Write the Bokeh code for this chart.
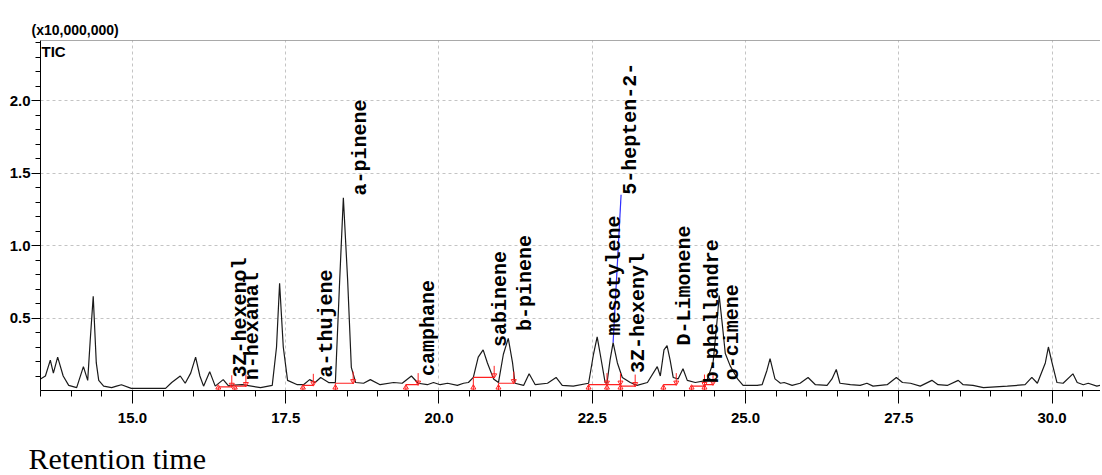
import numpy as np
from bokeh.plotting import figure
from bokeh.models import Range1d, FixedTicker, PrintfTickFormatter, Label, Span, Title
from bokeh.core.properties import value
from bokeh.embed import file_html
from bokeh.resources import INLINE

# ---- chromatogram trace (retention time, TIC x10,000,000) ----
rt = [13.50, 13.58, 13.66, 13.71, 13.78, 13.87, 13.96, 14.09, 14.20, 14.27,
      14.31, 14.36, 14.41, 14.45, 14.53, 14.66, 14.74, 14.82, 14.98, 15.54,
      15.64, 15.78, 15.86, 15.95, 16.03, 16.10, 16.16, 16.26, 16.35, 16.48,
      16.57, 16.60, 16.79, 17.09, 17.28, 17.35, 17.40, 17.46, 17.53, 17.69,
      17.79, 17.89, 17.98, 18.07, 18.20, 18.31, 18.38, 18.44, 18.51, 18.57,
      18.64, 18.77, 18.88, 19.04, 19.26, 19.40, 19.55, 19.66, 19.81, 19.91,
      20.02, 20.14, 20.30, 20.40, 20.48, 20.56, 20.64, 20.72, 20.79, 20.89,
      20.97, 21.05, 21.13, 21.20, 21.24, 21.38, 21.47, 21.57, 21.77, 21.91,
      22.01, 22.19, 22.44, 22.52, 22.58, 22.63, 22.71, 22.74, 22.79, 22.84,
      22.91, 22.99, 23.12, 23.23, 23.40, 23.56, 23.61, 23.67, 23.72, 23.77,
      23.82, 23.90, 23.98, 24.05, 24.18, 24.37, 24.47, 24.54, 24.57, 24.62,
      24.67, 24.75, 24.87, 24.96, 25.19, 25.27, 25.35, 25.40, 25.48, 25.57,
      25.63, 25.76, 25.89, 26.02, 26.14, 26.33, 26.41, 26.48, 26.54, 26.71,
      26.87, 26.98, 27.08, 27.31, 27.46, 27.56, 27.69, 27.85, 28.04, 28.14,
      28.29, 28.47, 28.55, 28.71, 28.88, 29.27, 29.56, 29.67, 29.76, 29.89,
      29.94, 30.00, 30.08, 30.18, 30.34, 30.41, 30.51, 30.59, 30.73, 30.82]
tic = [0.080, 0.100, 0.210, 0.120, 0.230, 0.100, 0.035, 0.020, 0.165, 0.070,
       0.340, 0.650, 0.190, 0.070, 0.030, 0.020, 0.030, 0.040, 0.015, 0.015,
       0.055, 0.100, 0.050, 0.120, 0.230, 0.100, 0.030, 0.130, 0.030, 0.075,
       0.030, 0.035, 0.040, 0.020, 0.035, 0.300, 0.740, 0.300, 0.070, 0.040,
       0.040, 0.075, 0.055, 0.090, 0.055, 0.055, 0.760, 1.330, 0.760, 0.160,
       0.055, 0.050, 0.075, 0.040, 0.055, 0.050, 0.100, 0.050, 0.040, 0.055,
       0.040, 0.050, 0.035, 0.050, 0.055, 0.090, 0.230, 0.280, 0.190, 0.080,
       0.055, 0.250, 0.360, 0.190, 0.050, 0.035, 0.115, 0.040, 0.050, 0.090,
       0.035, 0.030, 0.050, 0.250, 0.370, 0.250, 0.055, 0.050, 0.210, 0.330,
       0.190, 0.090, 0.055, 0.035, 0.055, 0.165, 0.100, 0.280, 0.310, 0.210,
       0.090, 0.080, 0.150, 0.070, 0.055, 0.070, 0.190, 0.500, 0.655, 0.460,
       0.255, 0.170, 0.080, 0.035, 0.035, 0.040, 0.140, 0.220, 0.080, 0.050,
       0.055, 0.035, 0.050, 0.090, 0.040, 0.035, 0.080, 0.145, 0.050, 0.040,
       0.035, 0.050, 0.030, 0.040, 0.090, 0.055, 0.050, 0.030, 0.070, 0.040,
       0.035, 0.070, 0.040, 0.035, 0.020, 0.030, 0.040, 0.090, 0.050, 0.190,
       0.300, 0.190, 0.055, 0.050, 0.115, 0.055, 0.040, 0.050, 0.030, 0.040]

# ---- peak labels ----
label_names = ["3Z-hexenol", "n-hexanal", "a-thujene", "a-pinene", "camphane",
               "sabinene", "b-pinene", "mesotylene", "5-hepten-2-", "3Z-hexenyl",
               "D-Limonene", "b-phellandre", "o-cimene"]
label_rt = [16.48, 16.68, 17.89, 18.44, 19.55, 20.72, 21.13, 22.58, 22.84, 22.97,
            23.72, 24.18, 24.51]
label_y = [0.09, 0.07, 0.09, 1.345, 0.10, 0.30, 0.41, 0.38, 1.35, 0.12,
           0.31, 0.05, 0.07]

# leader line (peak apex -> displaced label)
leader_x0 = [22.84]
leader_y0 = [0.33]
leader_x1 = [22.97]
leader_y1 = [1.35]

# ---- integration marks ----
int_start = [16.40, 16.67, 17.78, 18.31, 19.46, 20.56, 20.97, 22.44, 22.74, 22.96, 23.66, 24.12, 24.33]
int_end = [16.62, 16.85, 17.95, 18.60, 19.66, 20.90, 21.22, 22.74, 22.96, 23.20, 23.87, 24.33, 24.47]
int_level = [0.025, 0.030, 0.035, 0.050, 0.040, 0.090, 0.050, 0.040, 0.040, 0.030, 0.040, 0.030, 0.040]

# ---- ticks ----
x_major = [15.0, 17.5, 20.0, 22.5, 25.0, 27.5, 30.0]
x_minor = [13.5, 14.0, 14.5, 15.5, 16.0, 16.5, 17.0, 18.0, 18.5, 19.0, 19.5, 20.5,
           21.0, 21.5, 22.0, 23.0, 23.5, 24.0, 24.5, 25.5, 26.0, 26.5, 27.0, 28.0,
           28.5, 29.0, 29.5, 30.5]
y_major = [0.5, 1.0, 1.5, 2.0]
y_minor = [0.1, 0.2, 0.3, 0.4, 0.6, 0.7, 0.8, 0.9, 1.1, 1.2, 1.3, 1.4, 1.6, 1.7,
           1.8, 1.9, 2.1, 2.2, 2.3, 2.4]

SANS = "Liberation Sans"

p = figure(width=1100, height=475, x_range=Range1d(13.5, 30.79), y_range=Range1d(0, 2.414),
           output_backend="svg", toolbar_location=None,
           min_border_left=40, min_border_right=0, min_border_top=40, min_border_bottom=85)
p.outline_line_color = None
p.background_fill_color = "white"
p.border_fill_color = "white"

# top-left unit text as title
p.title.text = "(x10,000,000)"
p.title.align = "left"
p.title.offset = -9
p.title.standoff = 5
p.title.text_font = SANS
p.title.text_font_style = "bold"
p.title.text_font_size = "14px"
p.title.text_color = "black"

# axes
p.xaxis.ticker = FixedTicker(ticks=x_major, minor_ticks=x_minor)
p.yaxis.ticker = FixedTicker(ticks=y_major, minor_ticks=y_minor)
p.xaxis.formatter = PrintfTickFormatter(format="%.1f")
p.yaxis.formatter = PrintfTickFormatter(format="%.1f")
for ax in (p.xaxis[0], p.yaxis[0]):
    ax.axis_line_color = "black"
    ax.major_tick_line_color = "black"
    ax.minor_tick_line_color = "black"
    ax.major_tick_in = 0
    ax.minor_tick_in = 0
    ax.major_label_text_font = SANS
    ax.major_label_text_font_style = "bold"
    ax.major_label_text_font_size = "15px"
    ax.major_label_text_color = "black"
p.xaxis.major_tick_out = 13
p.xaxis.minor_tick_out = 6
p.xaxis.major_label_standoff = 9
p.yaxis.major_tick_out = 9
p.yaxis.minor_tick_out = 5
p.yaxis.major_label_standoff = 1
# blank axis label used only as spacing below the tick labels
p.xaxis.axis_label = " "
p.xaxis.axis_label_standoff = 10
p.xaxis.axis_label_text_font_size = "1px"

p.xgrid.grid_line_color = "#c4c4c4"
p.xgrid.grid_line_dash = "3 3"
p.ygrid.grid_line_color = "#c4c4c4"
p.ygrid.grid_line_dash = "3 3"

p.add_layout(Span(location=2.414, dimension="width", line_color="#555555", line_width=1))

# trace
p.line(rt, tic, line_color="#1a1a1a", line_width=1.2)

# integration marks
lvl_top = [v + 0.08 for v in int_level]
zeros = [0.0] * len(int_start)
p.segment(x0=int_start, y0=int_level, x1=int_end, y1=int_level, line_color="#ff2020", line_width=1.2)
p.segment(x0=int_start, y0=zeros, x1=int_start, y1=int_level, line_color="#ff2020", line_width=1)
p.segment(x0=int_end, y0=int_level, x1=int_end, y1=lvl_top, line_color="#ff2020", line_width=1)
p.scatter(x=int_start, y=[0.02] * len(int_start), marker="triangle", size=5,
          fill_color=None, line_color="#ff2020")
p.scatter(x=int_end, y=[v + 0.015 for v in int_level], marker="inverted_triangle", size=5,
          fill_color=None, line_color="#ff2020")

# leader
p.segment(x0=leader_x0, y0=leader_y0, x1=leader_x1, y1=leader_y1, line_color="#3030ff", line_width=1.2)

# peak labels
p.text(x=label_rt, y=label_y, text=label_names, angle=np.pi / 2, x_offset=17,
       text_align="left", text_baseline="middle", text_font=value("Liberation Mono"),
       text_font_size="20px", text_font_style="bold", text_color="black")

# TIC inside frame (top-left)
p.add_layout(Label(x=13.5, y=2.40, x_offset=1, text="TIC",
                   text_baseline="top", text_align="left", text_font=SANS,
                   text_font_style="bold", text_font_size="15px", text_color="black"))

# x-axis caption below
p.add_layout(Title(text="Retention time", align="left", offset=-12, standoff=0,
                   text_font="Liberation Serif", text_font_style="normal",
                   text_font_size="30px", text_color="black"), "below")

open("out.html", "w").write(file_html(p, INLINE))
